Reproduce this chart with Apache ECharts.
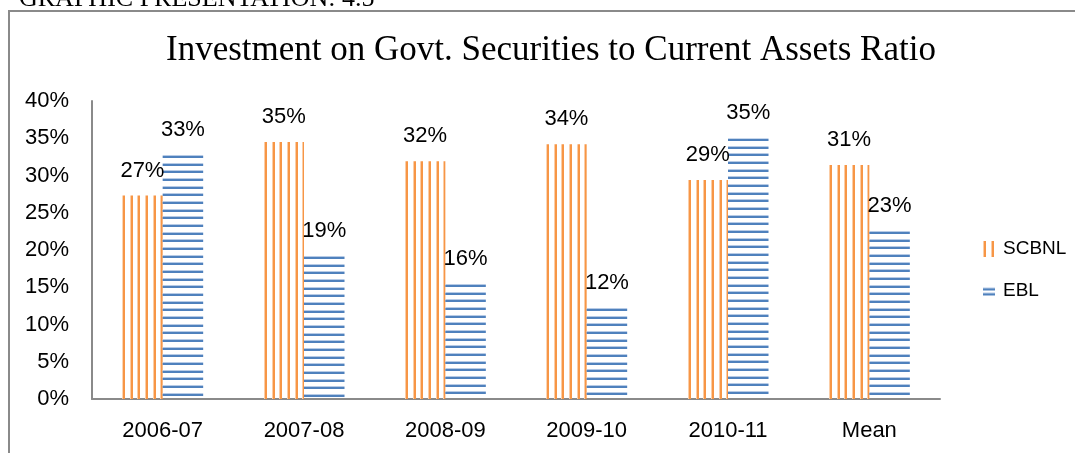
<!DOCTYPE html>
<html>
<head>
<meta charset="utf-8">
<script src="https://cdn.jsdelivr.net/npm/echarts@6/dist/echarts.min.js"></script>
<style>
html,body{margin:0;padding:0;background:#fff;}
#chart{width:1075px;height:453px;}
</style>
</head>
<body>
<div id="chart"></div>
<script>
const categories = ['2006-07', '2007-08', '2008-09', '2009-10', '2010-11', 'Mean'];
const scbnl = [27.3, 34.5, 31.9, 34.2, 29.4, 31.4];
const ebl = [32.8, 19.2, 15.5, 12.2, 35.0, 22.6];
const seriesNames = ['SCBNL', 'EBL'];
const yMin = 0, yMax = 40, yStep = 5;
const titleText = 'Investment on Govt. Securities to Current Assets Ratio';
const headerText = 'GRAPHIC PRESENTATION: 4.5';

const BAR_W = 40.5;

function stripeTile(vertical, dark, light) {
  const c = document.createElement('canvas');
  c.width = 23; c.height = 23;
  const g = c.getContext('2d');
  [0, 8, 15].forEach(p => {
    g.fillStyle = light;
    if (vertical) g.fillRect(p, 0, 1, 23); else g.fillRect(0, p, 23, 1);
    g.fillStyle = dark;
    if (vertical) g.fillRect(p + 1, 0, 2, 23); else g.fillRect(0, p + 1, 23, 2);
  });
  return c;
}
function iconData(vertical, dark, light) {
  const c = document.createElement('canvas');
  c.width = 12; c.height = 16;
  const g = c.getContext('2d');
  if (vertical) {
    g.fillStyle = light; g.fillRect(0, 0, 1, 16); g.fillRect(8, 0, 1, 16);
    g.fillStyle = dark; g.fillRect(1, 0, 2, 16); g.fillRect(9, 0, 2, 16);
  } else {
    g.fillStyle = light; g.fillRect(0, 5, 12, 1); g.fillRect(0, 10, 12, 1);
    g.fillStyle = dark; g.fillRect(0, 6, 12, 2); g.fillRect(0, 11, 12, 2);
  }
  return 'image://' + c.toDataURL();
}

const orangeDark = '#F79646', orangeLight = '#FBCDA6';
const blueDark = '#4F81BD', blueLight = '#B7CBE6';
const orangeTile = stripeTile(true, orangeDark, orangeLight);
const blueTile = stripeTile(false, blueDark, blueLight);

const chart = echarts.init(document.getElementById('chart'));
const labelFont = { fontFamily: '"Liberation Sans", Arial, sans-serif', fontSize: 22, color: '#000' };

chart.setOption({
  animation: false,
  backgroundColor: '#fff',
  graphic: [
    { type: 'rect', shape: { x: 9, y: 11, width: 1100, height: 500 }, style: { fill: 'none', stroke: '#8a8a8a', lineWidth: 2 } },
    { type: 'text', style: { text: headerText, x: 19, y: -1, textAlign: 'left', textVerticalAlign: 'middle', font: '26px "Liberation Serif", serif', fill: '#000' } },
    { type: 'text', style: { text: titleText, x: 551, y: 51, textAlign: 'center', textVerticalAlign: 'middle', font: '35px "Liberation Serif", serif', fill: '#000' } }
  ],
  legend: {
    orient: 'vertical',
    left: 978,
    top: 234,
    itemWidth: 12,
    itemHeight: 16,
    itemGap: 23,
    textStyle: { fontFamily: '"Liberation Sans", Arial, sans-serif', fontSize: 19, color: '#000', padding: [0, 0, 0, 3] },
    data: [
      { name: seriesNames[0], icon: iconData(true, orangeDark, orangeLight) },
      { name: seriesNames[1], icon: iconData(false, blueDark, blueLight) }
    ]
  },
  grid: { left: 92, right: 135, top: 101, bottom: 54, containLabel: false },
  xAxis: {
    type: 'category',
    data: categories,
    boundaryGap: true,
    axisLine: { lineStyle: { color: '#8a8a8a', width: 2 } },
    axisTick: { show: false },
    axisLabel: Object.assign({ margin: 21 }, labelFont)
  },
  yAxis: {
    type: 'value',
    min: yMin, max: yMax, interval: yStep,
    axisLine: { show: true, lineStyle: { color: '#8a8a8a', width: 2 } },
    axisTick: { show: false },
    splitLine: { show: false },
    axisLabel: Object.assign({ margin: 23, formatter: '{value}%' }, labelFont)
  },
  series: [
    {
      name: seriesNames[0], type: 'bar', data: scbnl, barWidth: BAR_W, barGap: '0%',
      itemStyle: { color: { image: orangeTile, repeat: 'repeat' } },
      label: Object.assign({ show: true, position: 'top', distance: 14, formatter: p => Math.round(p.value) + '%' }, labelFont)
    },
    {
      name: seriesNames[1], type: 'bar', data: ebl, barWidth: BAR_W, barGap: '0%',
      itemStyle: { color: { image: blueTile, repeat: 'repeat' } },
      label: Object.assign({ show: true, position: 'top', distance: 14, formatter: p => Math.round(p.value) + '%' }, labelFont)
    }
  ]
});

// anchor each bar's stripe pattern to its own bar edges (positions from the library's scales)
function anchoredData(values, seriesIndex, tile) {
  return values.map((v, i) => {
    const pt = chart.convertToPixel({ seriesIndex: seriesIndex }, [i, v]);
    const left = seriesIndex === 0 ? pt[0] - BAR_W : pt[0];
    return {
      value: v,
      itemStyle: { color: { image: tile, repeat: 'repeat', x: Math.round(left), y: Math.round(pt[1]) } }
    };
  });
}
chart.setOption({
  series: [
    { data: anchoredData(scbnl, 0, orangeTile) },
    { data: anchoredData(ebl, 1, blueTile) }
  ]
});
</script>
</body>
</html>
